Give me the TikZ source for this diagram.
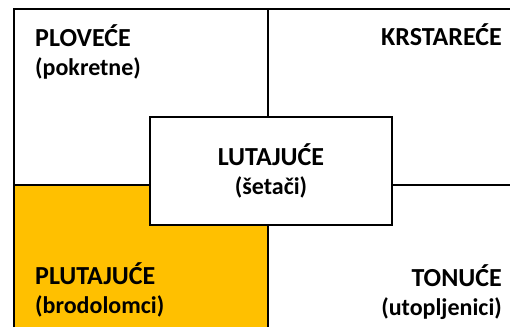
\documentclass[tikz,border=0pt]{standalone}
\usepackage{fontspec}
\setmainfont{Carlito}
\definecolor{quadgold}{RGB}{255,192,0}
\newcommand{\quadtitle}[1]{{\fontsize{26}{29}\selectfont #1}}
\tikzset{
  quadline/.style={line width=2pt},
  quadlabel/.style={font=\fontsize{24}{29}\selectfont\bfseries, inner sep=0pt}
}
\begin{document}
\begin{tikzpicture}[x=1pt,y=1pt,yscale=-1,xscale=1]
        \useasboundingbox (0,0) rectangle (510,327);

        % Coordinates of the frame
        \coordinate (nw) at (14,9);
        \coordinate (ne) at (510,9);
        \coordinate (sw) at (14,327);
        \coordinate (midtop) at (268,9);
        \coordinate (midbot) at (268,327);
        \coordinate (midleft) at (14,185);
        \coordinate (midright) at (510,185);

        % Filled quadrant
        \fill [quadgold] (midleft) rectangle (midbot);

        % Frame and dividers
        \draw [quadline] (sw) -- (nw) -- (ne);
        \draw [quadline] (midtop) -- (midbot);
        \draw [quadline] (midleft) -- (midright);

        % Centre box
        \node (lutajuce) [draw, fill=white, line width=1.3pt, minimum width=242pt, minimum height=108pt, align=center, quadlabel] at (271,171) {\quadtitle{LUTAJUĆE}\\(šetači)};

        % Text Node
        \node (plovece) [quadlabel, anchor=base west, align=left] at (35,75) {\quadtitle{PLOVEĆE}\\(pokretne)};
        % Text Node
        \node (krstarece) [quadlabel, anchor=base east, align=right] at (502,45) {\quadtitle{KRSTAREĆE}};
        % Text Node
        \node (plutajuce) [quadlabel, anchor=base west, align=left] at (35,313) {\quadtitle{PLUTAJUĆE}\\(brodolomci)};
        % Text Node
        \node (tonuce) [quadlabel, anchor=base east, align=right] at (502,315) {\quadtitle{TONUĆE}\\(utopljenici)};
\end{tikzpicture}
\end{document}
